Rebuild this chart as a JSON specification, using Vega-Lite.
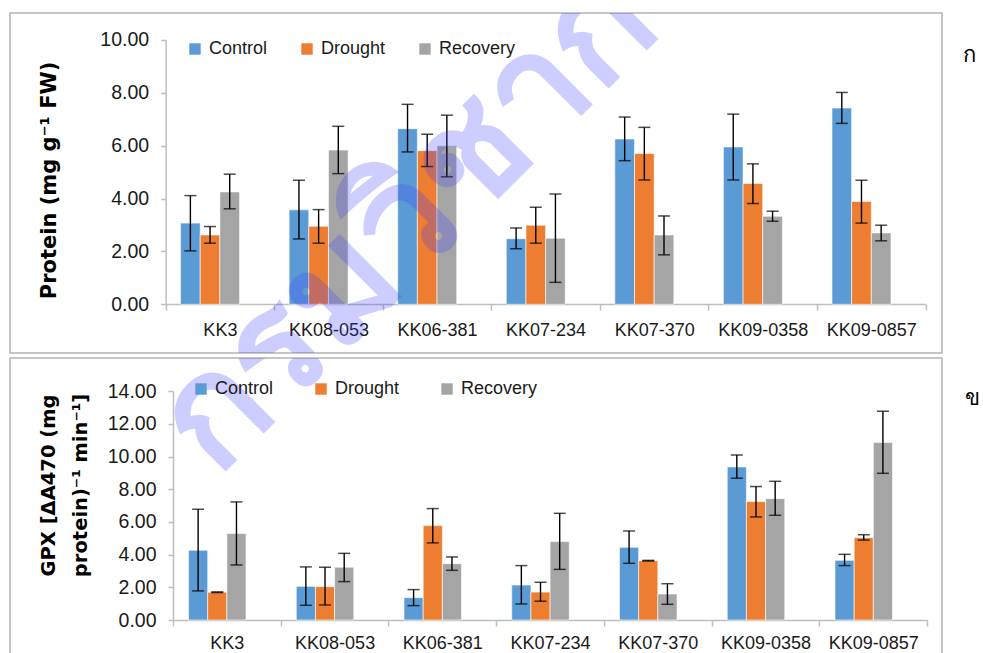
{
  "$schema": "https://vega.github.io/schema/vega-lite/v6.json",
  "background": "white",
  "padding": {"left": 9, "top": 12, "right": 2, "bottom": 0},
  "spacing": 3,
  "datasets": {
    "protein": [
      {"genotype": "KK3", "treatment": "Control", "value": 3.07, "lo": 2.02, "hi": 4.11},
      {"genotype": "KK3", "treatment": "Drought", "value": 2.62, "lo": 2.31, "hi": 2.94},
      {"genotype": "KK3", "treatment": "Recovery", "value": 4.25, "lo": 3.61, "hi": 4.92},
      {"genotype": "KK08-053", "treatment": "Control", "value": 3.57, "lo": 2.47, "hi": 4.69},
      {"genotype": "KK08-053", "treatment": "Drought", "value": 2.95, "lo": 2.31, "hi": 3.58},
      {"genotype": "KK08-053", "treatment": "Recovery", "value": 5.83, "lo": 4.94, "hi": 6.73},
      {"genotype": "KK06-381", "treatment": "Control", "value": 6.64, "lo": 5.76, "hi": 7.56},
      {"genotype": "KK06-381", "treatment": "Drought", "value": 5.81, "lo": 5.21, "hi": 6.43},
      {"genotype": "KK06-381", "treatment": "Recovery", "value": 5.99, "lo": 4.82, "hi": 7.15},
      {"genotype": "KK07-234", "treatment": "Control", "value": 2.48, "lo": 2.10, "hi": 2.88},
      {"genotype": "KK07-234", "treatment": "Drought", "value": 2.99, "lo": 2.31, "hi": 3.67},
      {"genotype": "KK07-234", "treatment": "Recovery", "value": 2.50, "lo": 0.83, "hi": 4.17},
      {"genotype": "KK07-370", "treatment": "Control", "value": 6.25, "lo": 5.43, "hi": 7.08},
      {"genotype": "KK07-370", "treatment": "Drought", "value": 5.70, "lo": 4.70, "hi": 6.69},
      {"genotype": "KK07-370", "treatment": "Recovery", "value": 2.62, "lo": 1.87, "hi": 3.34},
      {"genotype": "KK09-0358", "treatment": "Control", "value": 5.95, "lo": 4.70, "hi": 7.19},
      {"genotype": "KK09-0358", "treatment": "Drought", "value": 4.57, "lo": 3.81, "hi": 5.31},
      {"genotype": "KK09-0358", "treatment": "Recovery", "value": 3.33, "lo": 3.14, "hi": 3.52},
      {"genotype": "KK09-0857", "treatment": "Control", "value": 7.42, "lo": 6.84, "hi": 8.01},
      {"genotype": "KK09-0857", "treatment": "Drought", "value": 3.89, "lo": 3.07, "hi": 4.69},
      {"genotype": "KK09-0857", "treatment": "Recovery", "value": 2.70, "lo": 2.40, "hi": 2.99}
    ],
    "gpx": [
      {"genotype": "KK3", "treatment": "Control", "value": 4.27, "lo": 1.78, "hi": 6.78},
      {"genotype": "KK3", "treatment": "Drought", "value": 1.70, "lo": 1.68, "hi": 1.72},
      {"genotype": "KK3", "treatment": "Recovery", "value": 5.29, "lo": 3.37, "hi": 7.23},
      {"genotype": "KK08-053", "treatment": "Control", "value": 2.06, "lo": 0.90, "hi": 3.25},
      {"genotype": "KK08-053", "treatment": "Drought", "value": 2.04, "lo": 0.92, "hi": 3.23},
      {"genotype": "KK08-053", "treatment": "Recovery", "value": 3.23, "lo": 2.35, "hi": 4.08},
      {"genotype": "KK06-381", "treatment": "Control", "value": 1.37, "lo": 0.88, "hi": 1.86},
      {"genotype": "KK06-381", "treatment": "Drought", "value": 5.78, "lo": 4.72, "hi": 6.82},
      {"genotype": "KK06-381", "treatment": "Recovery", "value": 3.45, "lo": 3.04, "hi": 3.86},
      {"genotype": "KK07-234", "treatment": "Control", "value": 2.14, "lo": 0.98, "hi": 3.33},
      {"genotype": "KK07-234", "treatment": "Drought", "value": 1.71, "lo": 1.15, "hi": 2.31},
      {"genotype": "KK07-234", "treatment": "Recovery", "value": 4.80, "lo": 3.10, "hi": 6.53},
      {"genotype": "KK07-370", "treatment": "Control", "value": 4.45, "lo": 3.47, "hi": 5.45},
      {"genotype": "KK07-370", "treatment": "Drought", "value": 3.63, "lo": 3.61, "hi": 3.65},
      {"genotype": "KK07-370", "treatment": "Recovery", "value": 1.59, "lo": 0.96, "hi": 2.22},
      {"genotype": "KK09-0358", "treatment": "Control", "value": 9.37, "lo": 8.68, "hi": 10.10},
      {"genotype": "KK09-0358", "treatment": "Drought", "value": 7.25, "lo": 6.31, "hi": 8.17},
      {"genotype": "KK09-0358", "treatment": "Recovery", "value": 7.43, "lo": 6.41, "hi": 8.49},
      {"genotype": "KK09-0857", "treatment": "Control", "value": 3.65, "lo": 3.33, "hi": 4.02},
      {"genotype": "KK09-0857", "treatment": "Drought", "value": 5.04, "lo": 4.89, "hi": 5.22},
      {"genotype": "KK09-0857", "treatment": "Recovery", "value": 10.86, "lo": 8.98, "hi": 12.78}
    ],
    "watermark": [
      {"label": "กรมวิชาการเกษตร"}
    ]
  },
  "config": {
    "view": {"stroke": "#b4b4b4", "strokeWidth": 1.5},
    "axis": {
      "domainColor": "#bfbfbf", "domainWidth": 1.5, "tickColor": "#bfbfbf", "tickWidth": 1.5,
      "labelFont": "Liberation Sans", "labelFontSize": 18, "labelColor": "#1a1a1a", "grid": false
    },
    "legend": {
      "labelFont": "Liberation Sans", "labelFontSize": 18, "labelColor": "#1a1a1a"
    }
  },
  "resolve": {
    "scale": {"x": "independent", "y": "independent", "color": "independent", "xOffset": "independent"},
    "legend": {"color": "independent"}
  },
  "vconcat": [
    {
      "width": 932,
      "height": 340,
      "title": {"text": "ก", "orient": "right", "anchor": "start", "angle": 0, "offset": 8, "dy": 32, "fontSize": 22, "fontWeight": "normal", "color": "black"},
      "data": {"name": "protein"},
      "encoding": {
        "x": {"field": "genotype", "type": "nominal", "sort": null,
          "scale": {"range": [155.6, 915.6], "paddingInner": 0, "paddingOuter": 0},
          "axis": {"title": null, "tickBand": "extent", "offset": -49, "labelAngle": 0, "tickSize": 6, "labelPadding": 11}},
        "xOffset": {"field": "treatment", "type": "nominal", "sort": ["Control", "Drought", "Recovery"],
          "scale": {"paddingInner": 0, "paddingOuter": 0.76}}
      },
      "layer": [
        {
          "mark": {"type": "bar", "stroke": "white", "strokeWidth": 0.6},
          "encoding": {
            "y": {"field": "value", "type": "quantitative",
              "scale": {"domain": [0, 10], "range": [291.3, 26.8], "nice": false, "zero": true},
              "axis": {"title": "Protein (mg  g⁻¹  FW)", "offset": -155.6, "values": [0, 2, 4, 6, 8, 10], "format": ".2f",
                "tickSize": 5, "labelPadding": 12, "labelFontSize": 19.5, "titleFont": "DejaVu Sans", "titleFontSize": 21, "titleFontWeight": "bold",
                "titleColor": "black", "titlePadding": 40, "titleY": 167}},
            "color": {"field": "treatment", "type": "nominal", "sort": ["Control", "Drought", "Recovery"],
              "scale": {"domain": ["Control", "Drought", "Recovery"], "range": ["#5B9BD5", "#ED7D31", "#A5A5A5"]},
              "legend": {"title": null, "orient": "none", "legendX": 176, "legendY": 27, "direction": "horizontal",
                "symbolType": "square", "symbolSize": 130, "symbolStrokeWidth": 0, "columnPadding": 30, "labelOffset": 5}}
          }
        },
        {
          "mark": {"type": "rule", "color": "black", "strokeWidth": 1.4},
          "encoding": {
            "y": {"field": "lo", "type": "quantitative"},
            "y2": {"field": "hi"}
          }
        },
        {
          "mark": {"type": "tick", "color": "black", "size": 12, "thickness": 1.5},
          "encoding": {"y": {"field": "lo", "type": "quantitative"}}
        },
        {
          "mark": {"type": "tick", "color": "black", "size": 12, "thickness": 1.5},
          "encoding": {"y": {"field": "hi", "type": "quantitative"}}
        },
        {
          "data": {"name": "watermark"},
          "mark": {"type": "text", "clip": true, "angle": -45, "align": "left", "baseline": "middle",
            "dx": -398, "fontSize": 150, "fontWeight": "bold", "color": "#3c3cff", "opacity": 0.25},
          "encoding": {
            "text": {"field": "label"},
            "x": {"datum": "KK06-381"},
            "y": {"datum": 5.3}
          }
        }
      ]
    },
    {
      "width": 932,
      "height": 300,
      "title": {"text": "ข", "orient": "right", "anchor": "start", "angle": 0, "offset": 8, "dy": 30, "fontSize": 22, "fontWeight": "normal", "color": "black"},
      "data": {"name": "gpx"},
      "encoding": {
        "x": {"field": "genotype", "type": "nominal", "sort": null,
          "scale": {"range": [163, 917.2], "paddingInner": 0, "paddingOuter": 0},
          "axis": {"title": null, "tickBand": "extent", "offset": -38, "labelAngle": 0, "tickSize": 6, "labelPadding": 8}},
        "xOffset": {"field": "treatment", "type": "nominal", "sort": ["Control", "Drought", "Recovery"],
          "scale": {"paddingInner": 0, "paddingOuter": 0.81}}
      },
      "layer": [
        {
          "mark": {"type": "bar", "stroke": "white", "strokeWidth": 0.6},
          "encoding": {
            "y": {"field": "value", "type": "quantitative",
              "scale": {"domain": [0, 14], "range": [262, 33.3], "nice": false, "zero": true},
              "axis": {"title": ["GPX [ΔA470 (mg", "protein)⁻¹ min⁻¹]"], "offset": -163, "values": [0, 2, 4, 6, 8, 10, 12, 14], "format": ".2f",
                "tickSize": 5, "labelPadding": 12, "labelFontSize": 19.5, "titleFont": "DejaVu Sans", "titleFontSize": 19.5, "titleFontWeight": "bold",
                "titleColor": "black", "titlePadding": 17, "titleLineHeight": 32, "titleY": 127}},
            "color": {"field": "treatment", "type": "nominal", "sort": ["Control", "Drought", "Recovery"],
              "scale": {"domain": ["Control", "Drought", "Recovery"], "range": ["#5B9BD5", "#ED7D31", "#A5A5A5"]},
              "legend": {"title": null, "orient": "none", "legendX": 182, "legendY": 22, "direction": "horizontal",
                "symbolType": "square", "symbolSize": 130, "symbolStrokeWidth": 0, "columnPadding": 38, "labelOffset": 5}}
          }
        },
        {
          "mark": {"type": "rule", "color": "black", "strokeWidth": 1.4},
          "encoding": {
            "y": {"field": "lo", "type": "quantitative"},
            "y2": {"field": "hi"}
          }
        },
        {
          "mark": {"type": "tick", "color": "black", "size": 12, "thickness": 1.5},
          "encoding": {"y": {"field": "lo", "type": "quantitative"}}
        },
        {
          "mark": {"type": "tick", "color": "black", "size": 12, "thickness": 1.5},
          "encoding": {"y": {"field": "hi", "type": "quantitative"}}
        },
        {
          "data": {"name": "watermark"},
          "mark": {"type": "text", "clip": true, "angle": -45, "align": "left", "baseline": "middle",
            "dx": -101, "fontSize": 150, "fontWeight": "bold", "color": "#3c3cff", "opacity": 0.25},
          "encoding": {
            "text": {"field": "label"},
            "x": {"datum": "KK3"},
            "y": {"datum": 15.0}
          }
        }
      ]
    }
  ]
}
